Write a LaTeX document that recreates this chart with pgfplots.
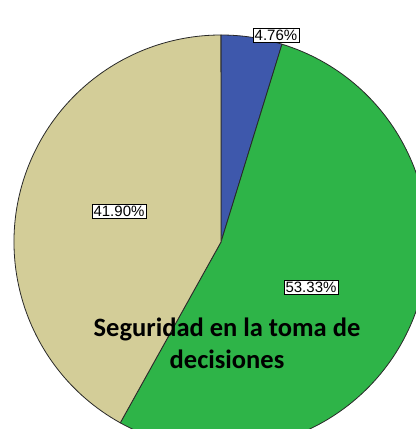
\documentclass[border=0pt]{standalone}
\usepackage{pgfplots}
\pgfplotsset{compat=1.18}
\usepackage{pgfplotstable}
\usepackage{fontspec}
\setmainfont{Liberation Sans}
\newfontfamily\titlefont{Carlito}

\definecolor{sliceblue}{RGB}{62,88,172}
\definecolor{slicegreen}{RGB}{46,180,72}
\definecolor{slicetan}{RGB}{211,205,152}
\definecolor{edge}{RGB}{40,40,40}

% share of each slice, clockwise from 12 o'clock
\pgfplotstableread{
slice pct
1 4.76
2 53.33
3 41.90
}\slices

\pgfplotstablegetelem{0}{pct}\of\slices \let\pA\pgfplotsretval
\pgfplotstablegetelem{1}{pct}\of\slices \let\pB\pgfplotsretval
\pgfplotstablegetelem{2}{pct}\of\slices \let\pC\pgfplotsretval
\pgfmathsetmacro\aA{90-3.6*\pA}
\pgfmathsetmacro\aB{\aA-3.6*\pB}
\pgfmathsetmacro\aC{\aB-3.6*\pC}

\tikzset{lbl/.style={draw=black, fill=white, line width=0.5pt, inner xsep=1.5bp,
                inner ysep=1.8bp, font=\fontsize{15bp}{17bp}\selectfont}}

\begin{document}
\begin{tikzpicture}
\begin{axis}[
    width=416bp, height=429bp, scale only axis,
    xmin=0, xmax=416, ymin=0, ymax=429,
    hide axis, clip=true,
]
\addplot[draw=none] coordinates {(0,0) (416,429)};
\fill[sliceblue, draw=edge, line width=0.8bp]
    (axis cs:221,187) -- ++(90:207bp) arc[start angle=90, end angle=\aA, radius=207bp] -- cycle;
\fill[slicegreen, draw=edge, line width=0.8bp]
    (axis cs:221,187) -- ++(\aA:207bp) arc[start angle=\aA, end angle=\aB, radius=207bp] -- cycle;
\fill[slicetan, draw=edge, line width=0.8bp]
    (axis cs:221,187) -- ++(\aB:207bp) arc[start angle=\aB, end angle=\aC, radius=207bp] -- cycle;

\node[lbl] at (axis cs:276,393.5) {4.76\%};
\node[lbl] at (axis cs:119,218) {41.90\%};
\node[lbl] at (axis cs:311,142) {53.33\%};

\node[align=center, font=\titlefont\bfseries\fontsize{26.5bp}{32bp}\selectfont]
    at (axis cs:227,86) {Seguridad en la toma de\\decisiones};
\end{axis}
\end{tikzpicture}
\end{document}
